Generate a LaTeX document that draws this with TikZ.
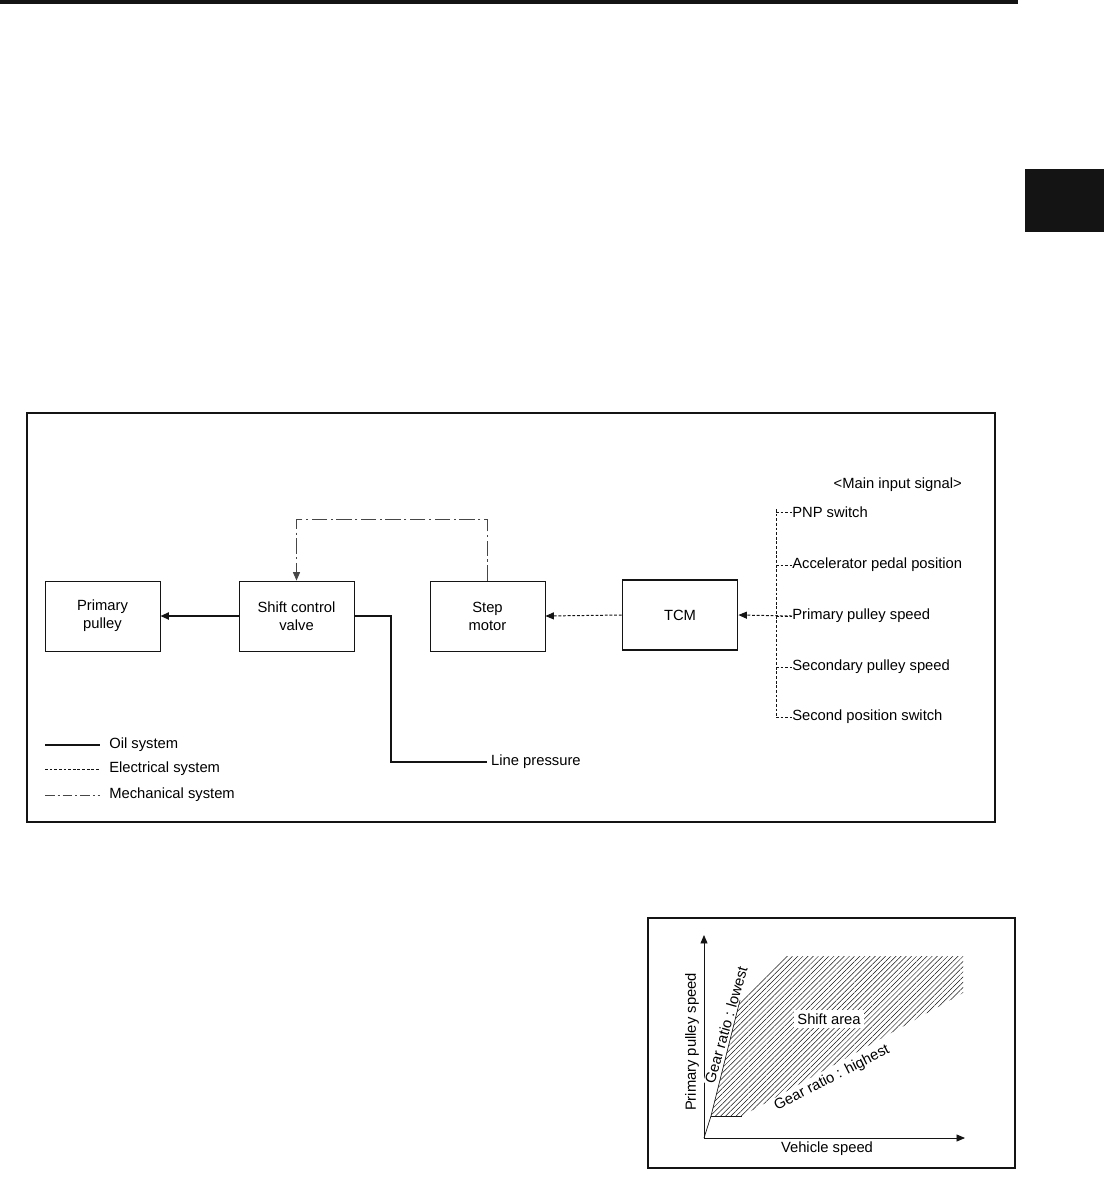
\documentclass[tikz,border=0pt]{standalone}
\usepackage{xcolor}
\usepackage{fontspec}
\setmainfont{Liberation Sans}
\usepackage{tikz}
\usetikzlibrary{arrows.meta, positioning, calc, patterns.meta}
\definecolor{inkblack}{RGB}{20,20,20}
\definecolor{mechgray}{RGB}{70,70,70}
\tikzset{
  box/.style={rectangle, draw=inkblack, line width=0.6pt,
    minimum width=2.875cm, minimum height=1.75cm, inner sep=0pt,
    align=center, font=\fontsize{10.5}{12.8}\selectfont},
  tcmbox/.style={box, line width=1.3pt},
  lbl/.style={font=\fontsize{10.5}{12.8}\selectfont, inner sep=0pt},
  tip/.style={-{Triangle[length=6pt,width=5pt]}},
  oil/.style={line width=1.3pt, color=inkblack},
  elec/.style={line width=0.7pt, color=inkblack, dash pattern=on 2pt off 1.3pt},
  mech/.style={line width=0.6pt, color=mechgray, dash pattern=on 11pt off 2.5pt on 1.5pt off 2.5pt},
  frame/.style={draw=inkblack, line width=1.1pt}
}
\begin{document}
\begin{tikzpicture}[x=0.025cm, y=-0.025cm]
  \useasboundingbox (0,0) rectangle (1104,1180);
  % Page header bar and tab
  \fill[inkblack] (0,0) rectangle (1018,4);
  \fill[inkblack] (1025,169) rectangle (1104,232);

  % Block diagram frame
  \draw[frame] (27,413) rectangle (995,822);

  % Blocks
  \node[box] (pulley) at (102.5,616) {Primary\\pulley};
  \node[box] (valve) at (296.5,616) {Shift control\\valve};
  \node[box] (motor) at (487.5,616) {Step\\motor};
  \node[tcmbox] (tcm) at (680,615) {TCM};

  % Oil system
  \draw[oil, tip] (valve.west) -- (pulley.east);
  \node[lbl, anchor=west, inner sep=2.8pt] (press) at (487,762) {Line pressure};
  \draw[oil] (valve.east) -- (391,616) |- (press.west);

  % Mechanical link
  \draw[mech, tip] (motor.north) -- ++(0,-61) -| (valve.north);

  % Electrical system
  \draw[elec, tip] (tcm.west) -- (motor.east);
  \node[lbl, anchor=east] (mainsig) at (962,485) {<Main input signal>};
  \coordinate (bus) at (776,509);
  \foreach \name/\y/\txt in {pnp/512/PNP switch,
                             accel/565/Accelerator pedal position,
                             prim/616/Primary pulley speed,
                             sec/667/Secondary pulley speed,
                             secpos/717/Second position switch}
  {
    \node[lbl, anchor=west] (\name) at (792,\y) {\txt};
    \draw[elec] (776,\y) -- (\name.west);
  }
  \draw[elec] (bus) -- (776,717);
  \draw[elec, tip] (prim.west) -- (tcm.east);

  % Legend
  \node[lbl, anchor=west] (legoil) at (109,745) {Oil system};
  \node[lbl, anchor=west] (legelec) at (109,769) {Electrical system};
  \node[lbl, anchor=west] (legmech) at (109,795) {Mechanical system};
  \draw[oil, line width=1pt] (45,745) -- (100,745);
  \draw[elec] (45,769) -- (100,769);
  \draw[mech, line width=0.7pt, dash pattern=on 7pt off 2pt on 1.5pt off 2pt] (45,795) -- (100,795);

  % Shift area chart
  \draw[frame] (648,918) rectangle (1015,1168);
  \coordinate (orig) at (704,1138);
  \fill[pattern={Lines[angle=45, distance=2.6pt, line width=0.35pt]}, pattern color=inkblack]
    (711,1116) -- (742,1116) -- (963,993) -- (963,956) -- (785,956) -- (740,1000) -- cycle;
  \draw[line width=0.5pt, inkblack] (orig) -- (711,1116) -- (740,1000);
  \draw[line width=0.5pt, inkblack] (711,1116) -- (742,1116);
  \draw[line width=0.6pt, inkblack, tip] (orig) -- (704,935);
  \draw[line width=0.6pt, inkblack, tip] (orig) -- (965,1138);
  \node[lbl, rotate=90] (yaxis) at (692,1042) {Primary pulley speed};
  \node[lbl] (xaxis) at (827,1149) {Vehicle speed};
  \node[lbl, fill=white, inner sep=2.5pt] (area) at (829,1019) {Shift area};
  \node[lbl, rotate=74, fill=white, inner sep=0.5pt] (lowest) at (726,1025) {Gear ratio : lowest};
  \node[lbl, rotate=27, fill=white, inner sep=0.5pt] (highest) at (832,1078) {Gear ratio : highest};
\end{tikzpicture}
\end{document}
